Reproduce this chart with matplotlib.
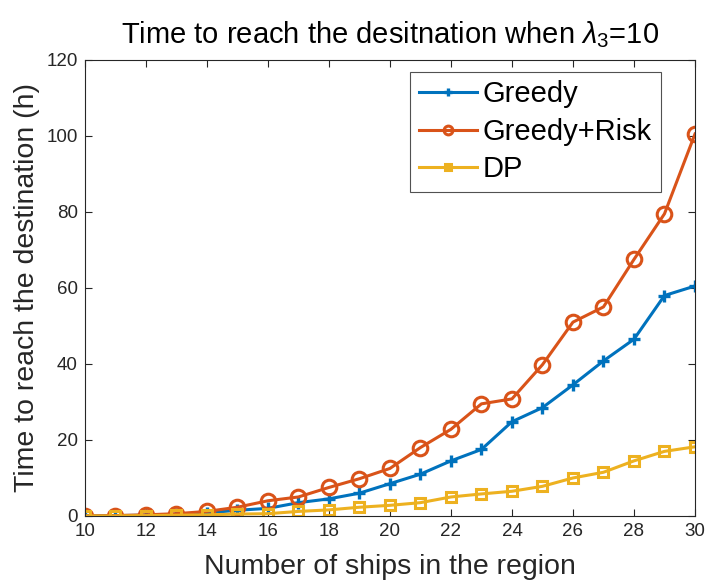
import numpy as np
import matplotlib.pyplot as plt

plt.rcParams['font.family'] = ['Liberation Sans', 'DejaVu Sans']
plt.rcParams['mathtext.fontset'] = 'custom'
plt.rcParams['mathtext.it'] = 'Liberation Sans:italic'
plt.rcParams['mathtext.rm'] = 'Liberation Sans'

ships = list(range(10, 31))
greedy = [0, 0.1, 0.2, 0.4, 0.8, 1.5, 2.0, 3.5, 4.5, 6.0, 8.5, 11.0, 14.5, 17.5,
          24.8, 28.5, 34.5, 40.8, 46.5, 58.0, 60.5]
greedy_risk = [0, 0.1, 0.3, 0.6, 1.2, 2.3, 4.0, 5.0, 7.5, 9.8, 12.5, 18.0, 22.8,
               29.5, 30.8, 39.8, 51.0, 55.0, 67.5, 79.5, 100.5]
dp = [0, 0, 0.1, 0.2, 0.3, 0.5, 0.6, 1.2, 1.6, 2.3, 2.8, 3.5, 5.0, 5.8, 6.5,
      7.8, 10.0, 11.5, 14.5, 17.0, 18.2]

fig = plt.figure(figsize=(7.07, 5.87), dpi=100)
ax = fig.add_axes([0.120, 0.121, 0.863, 0.777])

ax.plot(ships, greedy, color='#0072BD', lw=2.2, marker='+', ms=9, mew=2.4,
        label='Greedy')
ax.plot(ships, greedy_risk, color='#D95319', lw=2.2, marker='o', ms=10.5,
        mfc='none', mew=2.2, label='Greedy+Risk')
ax.plot(ships, dp, color='#EDB120', lw=2.2, marker='s', ms=7.5, mfc='none',
        mew=2.2, label='DP')

ax.set_xlim(10, 30)
ax.set_ylim(0, 120)
ax.set_xticks(range(10, 31, 2))
ax.set_yticks(range(0, 121, 20))
ax.tick_params(direction='in', labelsize=13.5, colors='#262626', length=5,
               top=True, right=True, pad=5)
for s in ax.spines.values():
    s.set_color('#262626')
    s.set_linewidth(0.8)

ax.set_xlabel('Number of ships in the region', fontsize=20.5, color='#262626',
              labelpad=10)
ax.set_ylabel('Time to reach the destination (h)', fontsize=20.5,
              color='#262626', labelpad=5)
ax.set_title('Time to reach the desitnation when $\\lambda_3$=10', fontsize=21,
             pad=12)

leg = ax.legend(loc='upper right', bbox_to_anchor=(0.944, 0.974),
                borderaxespad=0, fontsize=21, fancybox=False,
                edgecolor='#262626', handlelength=2.0, markerscale=0.6,
                labelspacing=0.32, handletextpad=0.2, borderpad=0.3)
leg.get_frame().set_linewidth(0.8)

fig.savefig('out.png', dpi=100)
